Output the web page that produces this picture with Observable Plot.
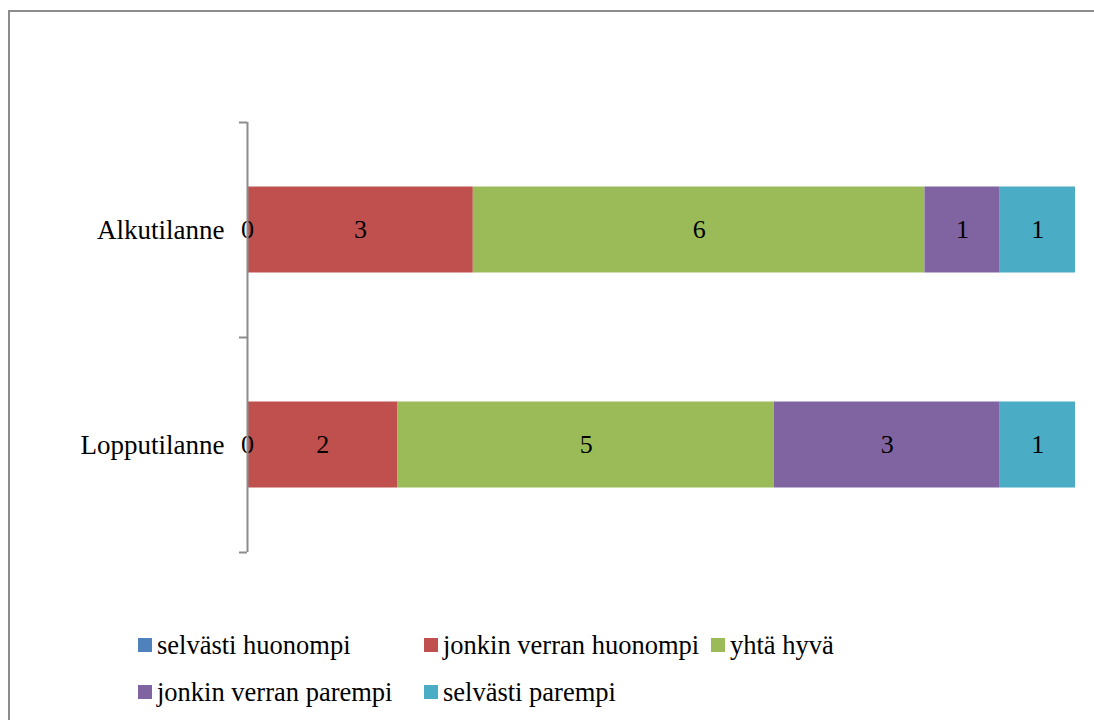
<!DOCTYPE html>
<html>
<head>
<meta charset="utf-8">
<script src="https://cdn.jsdelivr.net/npm/d3@7"></script>
<script src="https://cdn.jsdelivr.net/npm/@observablehq/plot@0.6"></script>
<style>
  html, body { margin: 0; padding: 0; background: #fff; }
  body { width: 1094px; height: 720px; position: relative; overflow: hidden; font-family: "Liberation Serif", serif; }
  #frame { position: absolute; left: 8px; top: 10px; width: 1200px; height: 800px; border-top: 2px solid #8c8c8c; border-left: 2px solid #8c8c8c; }
  #chart { position: absolute; left: 0; top: 0; }
  #legend { position: absolute; left: 138px; top: 630px; display: grid; grid-template-columns: 286px 287px auto; row-gap: 17px; }
  .item { display: flex; align-items: center; height: 30px; font-family: "Liberation Serif", serif; font-size: 26.5px; color: #000; white-space: nowrap; }
  .sw { width: 14px; height: 14px; margin-right: 5px; flex: none; }
</style>
</head>
<body>
<div id="frame"></div>
<div id="chart"></div>
<div id="legend"></div>
<script>
const categories = ["Alkutilanne", "Lopputilanne"];
const series = ["selvästi huonompi", "jonkin verran huonompi", "yhtä hyvä", "jonkin verran parempi", "selvästi parempi"];
const colors = ["#4F81BD", "#C0504D", "#9BBB59", "#8064A2", "#4BACC6"];
const alkuValues = [0, 3, 6, 1, 1];
const loppuValues = [0, 2, 5, 3, 1];

const data = [];
[alkuValues, loppuValues].forEach((vals, ci) => {
  vals.forEach((v, si) => data.push({cat: categories[ci], series: series[si], value: v}));
});

const halfStep = 107.5;

const chart = Plot.plot({
  width: 1094,
  height: 600,
  marginLeft: 247,
  marginRight: 19,
  marginTop: 122,
  marginBottom: 48,
  style: {fontFamily: "'Liberation Serif', serif", fontSize: "26px", background: "transparent", overflow: "visible"},
  x: {domain: [0, 11], axis: null},
  y: {domain: categories, padding: 0, label: null},
  color: {domain: series, range: colors},
  marks: [
    Plot.barX(data, Plot.stackX({x: "value", y: "cat", fill: "series", insetTop: 64.5, insetBottom: 64.5, order: null})),
    Plot.text(data, Plot.stackX({x: "value", y: "cat", text: d => String(d.value), fill: "black", fontSize: 26, order: null})),
    Plot.axisY({tickSize: 0, tickPadding: 23, fontSize: 27, fill: "black"}),
    Plot.ruleX([0], {stroke: "#8c8c8c", strokeWidth: 2}),
    Plot.ruleY(categories.slice(0, 1), {y: d => d, x1: 0, x2: 0, insetLeft: -8, dy: -halfStep, stroke: "#8c8c8c", strokeWidth: 2}),
    Plot.ruleY(categories, {y: d => d, x1: 0, x2: 0, insetLeft: -8, dy: halfStep, stroke: "#8c8c8c", strokeWidth: 2})
  ]
});
document.getElementById("chart").appendChild(chart);

const legend = document.getElementById("legend");
series.forEach((s, i) => {
  const item = document.createElement("div");
  item.className = "item";
  const sw = document.createElement("span");
  sw.className = "sw";
  sw.style.background = colors[i];
  const t = document.createElement("span");
  t.textContent = s;
  item.appendChild(sw);
  item.appendChild(t);
  legend.appendChild(item);
});
</script>
</body>
</html>
